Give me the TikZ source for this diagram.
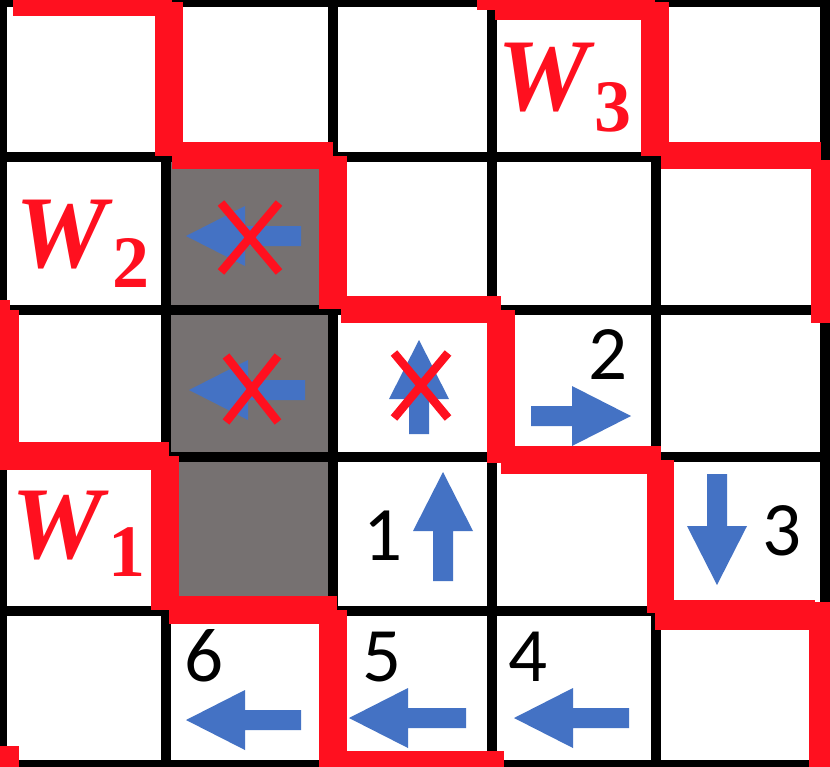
\documentclass[tikz,border=0pt]{standalone}
\usepackage{fontspec}
\setmainfont{Liberation Serif}
\newfontfamily\numfont{Carlito}
\definecolor{wallred}{RGB}{255,16,31}
\definecolor{arrowblue}{RGB}{68,114,196}
\definecolor{cellgray}{RGB}{118,113,113}
\tikzset{
  gridline/.style={line width=10pt, black},
  wall/.style={fill=wallred},
  cross/.style={draw=wallred, line width=8.5pt},
  numlabel/.style={inner sep=0pt, anchor=base, font=\numfont\fontsize{77}{80}\selectfont},
  wlabel/.style={inner sep=0pt, anchor=base, text=wallred, font=\fontsize{103}{110}\selectfont\bfseries\itshape},
  wsub/.style={inner sep=0pt, anchor=base, text=wallred, font=\fontsize{74}{80}\selectfont\bfseries},
  pics/blockarrow/.style={code={\fill[arrowblue] (0,0) -- (59,-30) -- (59,-10) -- (#1,-10) -- (#1,10) -- (59,10) -- (59,30) -- cycle;}}
}
\begin{document}
\begin{tikzpicture}[x=1pt,y=-1pt]
\useasboundingbox (0,0) rectangle (830,766);
\clip (0,0) rectangle (830,766);
\fill[white] (0,0) rectangle (830,766);
% blocked cells
\fill[cellgray] (166,157) rectangle (333,611);
% grid
\foreach \x in {2,166,333,492,656,825} \draw[gridline] (\x,-10) -- (\x,776);
\foreach \y in {2,157,310,457,611,765} \draw[gridline] (-10,\y) -- (840,\y);
% wall A
\fill[wall] (13,-10) rectangle (172,16);
\fill[wall] (155,2) rectangle (183,156);
\fill[wall] (172,142) rectangle (333,169);
\fill[wall] (319,156) rectangle (347,309);
\fill[wall] (341,296) rectangle (501,323);
\fill[wall] (487,310) rectangle (515,463);
\fill[wall] (501,446) rectangle (661,474);
\fill[wall] (647,460) rectangle (674,613);
\fill[wall] (655,600) rectangle (815,630);
\fill[wall] (809,602) rectangle (840,776);
% wall B
\fill[wall] (477,-10) rectangle (655,10);
\fill[wall] (495,-10) rectangle (641,20);
\fill[wall] (641,2) rectangle (669,156);
\fill[wall] (661,142) rectangle (821,169);
\fill[wall] (811,160) rectangle (840,323);
% wall C
\fill[wall] (-10,300) rectangle (10,442);
\fill[wall] (-10,310) rectangle (19,442);
\fill[wall] (-10,442) rectangle (169,470);
\fill[wall] (151,456) rectangle (179,610);
\fill[wall] (169,596) rectangle (337,624);
\fill[wall] (319,610) rectangle (347,776);
\fill[wall] (337,751) rectangle (504,776);
\fill[wall] (-10,746) rectangle (19,776);
% arrows
\pic at (186,236) {blockarrow=115};
\pic at (189,390) {blockarrow=116};
\pic[rotate=-90] at (419,340) {blockarrow=94};
\pic[rotate=180] at (631,416) {blockarrow=100};
\pic[rotate=-90] at (443,472) {blockarrow=109};
\pic[rotate=90] at (717,585) {blockarrow=111};
\pic at (186,720) {blockarrow=115};
\pic at (349,718) {blockarrow=117};
\pic at (514,718) {blockarrow=115};
% crosses
\draw[cross] (221,203) -- (279,272);
\draw[cross] (279,203) -- (221,272);
\draw[cross] (226,356) -- (278,422);
\draw[cross] (278,356) -- (226,422);
\draw[cross] (394,353) -- (448,418);
\draw[cross] (448,353) -- (394,418);
% step numbers
\node[numlabel] (n1) at (383.5,560) {1};
\node[numlabel] (n2) at (608,379) {2};
\node[numlabel] (n3) at (782,555) {3};
\node[numlabel] (n4) at (528,681) {4};
\node[numlabel] (n5) at (382.5,681) {5};
\node[numlabel] (n6) at (204,681) {6};
% wall labels
\node[wlabel] (w2) at (61.5,267) {W};
\node[wsub] (w2s) at (131,287) {2};
\node[wlabel] (w3) at (543.5,110) {W};
\node[wsub] (w3s) at (612.5,131) {3};
\node[wlabel] (w1) at (57.5,558) {W};
\node[wsub] (w1s) at (127,576) {1};
\end{tikzpicture}
\end{document}
